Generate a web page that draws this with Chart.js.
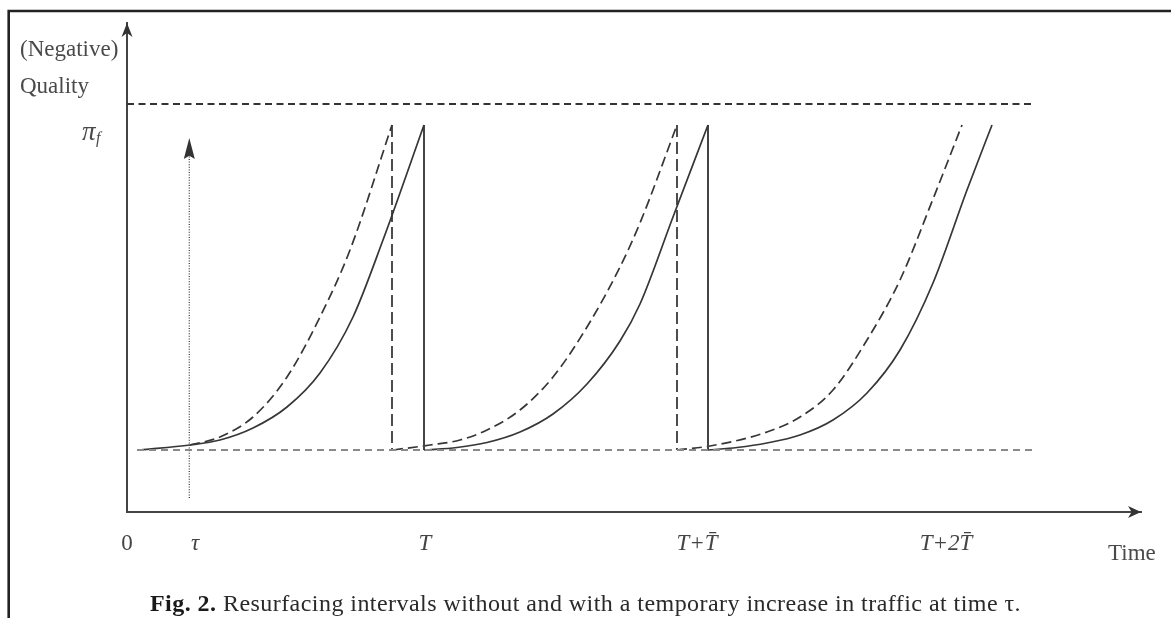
<!DOCTYPE html>
<html><head><meta charset="utf-8">
<script src="https://cdn.jsdelivr.net/npm/chart.js@4.4.1/dist/chart.umd.min.js"></script>
<style>
html,body{margin:0;padding:0;background:#fff;}
#wrap{position:relative;width:1171px;height:618px;overflow:hidden;background:#fff;}
canvas{position:absolute;left:0;top:0;}
#cap{position:absolute;left:0;width:1171px;top:591px;text-align:center;font-family:'Liberation Serif',serif;font-size:24px;line-height:24px;letter-spacing:0.45px;color:#2a2a2a;white-space:nowrap;}
#cap b{color:#1a1a1a;}
</style></head><body>
<div id="wrap"><canvas id="c" width="1171" height="618"></canvas>
<div id="cap"><b>Fig. 2.</b> Resurfacing intervals without and with a temporary increase in traffic at time τ.</div></div>
<script>
// ---- scales / levels ----
const X_MAX = 101.4;
const Y_MAX = 48.9;
const PI_F = 38.7;      // quality threshold pi_f
const UPPER = 40.8;     // upper dashed reference level
const BASE = 6.2;       // quality right after resurfacing
const TAU = 6.23;       // time of the temporary traffic increase
const TAU_TOP = 37.4;

// ---- x tick positions & labels ----
const tickValues = [0, 6.8, 29.8, 57.0, 81.9];
const tickLabels = ['0', 'τ', 'T', 'T+T\u0304', 'T+2T\u0304'];

// ---- solid path (no traffic increase) ----
const solidX1 = [1.3, 6.3, 9.3, 12.6, 16.0, 19.3, 22.6, 25.6, 29.7];
const solidY1 = [6.2, 6.7, 7.2, 8.4, 10.5, 13.9, 19.5, 27.2, 38.7];
const solidX2 = [29.7, 33.0, 36.0, 39.3, 42.6, 46.0, 49.3, 51.3, 54.6, 58.1];
const solidY2 = [6.2, 6.45, 6.95, 8.0, 9.8, 12.8, 17.1, 20.8, 29.5, 38.7];
const solidX3 = [58.1, 61.0, 64.0, 67.3, 70.6, 74.0, 77.3, 80.6, 84.0, 86.5];
const solidY3 = [6.2, 6.45, 6.9, 7.7, 9.2, 11.9, 16.2, 22.9, 32.2, 38.7];

// ---- dashed path (temporary traffic increase at tau) ----
const dashX1 = [6.3, 9.3, 12.6, 16.0, 19.3, 22.3, 26.5];
const dashY1 = [6.7, 7.5, 9.5, 13.5, 19.5, 26.2, 38.7];
const dashX2 = [26.6, 30.3, 33.3, 36.0, 39.3, 42.6, 46.0, 49.3, 51.3, 55.0];
const dashY2 = [6.2, 6.7, 7.2, 8.2, 10.2, 13.5, 18.5, 24.5, 28.9, 38.7];
const dashX3 = [55.0, 58.3, 64.0, 67.3, 70.6, 74.0, 77.3, 80.6, 83.5];
const dashY3 = [6.2, 6.6, 8.0, 9.5, 12.2, 17.2, 23.2, 31.3, 38.7];

const upperLineX = [0, 90.8];
const baseLineX = [1.0, 90.6];

const zip = (xs, ys) => xs.map((x, i) => ({x, y: ys[i]}));
const drop = (x, top) => [{x, y: top}, {x, y: BASE}];

const INK = '#363636';
const curve = (data, dash) => ({
  data, showLine: true, pointRadius: 0, borderColor: INK, borderWidth: 1.7,
  borderDash: dash || [], cubicInterpolationMode: 'monotone', fill: false
});
const straight = (data, color, width, dash) => ({
  data, showLine: true, pointRadius: 0, borderColor: color, borderWidth: width,
  borderDash: dash || [], tension: 0, fill: false
});

const datasets = [
  straight(zip(upperLineX, [UPPER, UPPER]), '#333', 2, [7, 4.5]),
  straight(zip(baseLineX, [BASE, BASE]), '#8a8a8a', 2, [7, 5]),
  straight([{x: TAU, y: 1.4}, {x: TAU, y: TAU_TOP - 1.5}], '#444', 1.3, [1, 1.6]),
  curve(zip(solidX1, solidY1)),
  curve(zip(solidX2, solidY2)),
  curve(zip(solidX3, solidY3)),
  straight(drop(solidX1[solidX1.length - 1], PI_F), '#444', 2),
  straight(drop(solidX2[solidX2.length - 1], PI_F), '#444', 2),
  curve(zip(dashX1, dashY1), [10, 5]),
  curve(zip(dashX2, dashY2), [10, 5]),
  curve(zip(dashX3, dashY3), [10, 5]),
  straight(drop(dashX1[dashX1.length - 1], PI_F), '#3a3a3a', 1.8, [12, 5]),
  straight(drop(dashX2[dashX2.length - 1], PI_F), '#3a3a3a', 1.8, [12, 5])
];

function arrowHead(ctx, x, y, angle, len, half, notch) {
  ctx.save();
  ctx.translate(x, y);
  ctx.rotate(angle);
  ctx.beginPath();
  ctx.moveTo(0, 0);
  ctx.lineTo(-len, -half);
  ctx.lineTo(-len * notch, 0);
  ctx.lineTo(-len, half);
  ctx.closePath();
  ctx.fill();
  ctx.restore();
}

const decor = {
  id: 'decor',
  afterDraw(chart) {
    const ctx = chart.ctx;
    const xs = chart.scales.x, ys = chart.scales.y;
    ctx.save();
    // frame
    ctx.strokeStyle = '#222';
    ctx.lineWidth = 2.6;
    ctx.beginPath();
    ctx.moveTo(8.7, 618);
    ctx.lineTo(8.7, 11);
    ctx.lineTo(1171, 11);
    ctx.stroke();
    // arrowheads
    ctx.fillStyle = '#333';
    const x0 = xs.getPixelForValue(0), y0 = ys.getPixelForValue(0);
    arrowHead(ctx, x0, ys.getPixelForValue(Y_MAX), -Math.PI / 2, 14, 5.5, 0.72);
    arrowHead(ctx, xs.getPixelForValue(X_MAX), y0, 0, 13, 6, 0.72);
    arrowHead(ctx, xs.getPixelForValue(TAU), ys.getPixelForValue(TAU_TOP), -Math.PI / 2, 21, 5.5, 0.85);
    // labels
    ctx.fillStyle = '#4a4a4a';
    ctx.textBaseline = 'alphabetic';
    ctx.textAlign = 'left';
    ctx.font = "23px 'Liberation Serif'";
    ctx.fillText('(Negative)', 20, 56);
    ctx.fillText('Quality', 20, 93);
    ctx.fillText('Time', 1108, 560);
    const py = ys.getPixelForValue(PI_F);
    ctx.font = "italic 27px 'Liberation Serif'";
    ctx.fillText('π', 82, py + 15);
    ctx.font = "italic 16px 'Liberation Serif'";
    ctx.fillText('f', 96, py + 18);
    ctx.restore();
  }
};

new Chart(document.getElementById('c'), {
  type: 'scatter',
  data: { datasets },
  plugins: [decor],
  options: {
    responsive: false,
    animation: false,
    devicePixelRatio: 1,
    layout: { padding: { top: 23, right: 30, left: 0, bottom: 0 } },
    plugins: { legend: { display: false }, tooltip: { enabled: false } },
    scales: {
      x: {
        type: 'linear', min: 0, max: X_MAX,
        grid: { display: false, drawTicks: false },
        border: { display: true, color: '#444', width: 2 },
        afterBuildTicks: s => { s.ticks = tickValues.map(v => ({ value: v })); },
        afterFit: s => { s.height = 106; },
        ticks: {
          autoSkip: false, maxRotation: 0, minRotation: 0, padding: 18, color: '#444',
          font: ctx => ({ family: 'Liberation Serif', size: 23, style: ctx.index === 0 ? 'normal' : 'italic' }),
          callback: (v, i) => tickLabels[i]
        }
      },
      y: {
        type: 'linear', min: 0, max: Y_MAX,
        grid: { display: false, drawTicks: false },
        border: { display: true, color: '#444', width: 2 },
        ticks: { display: false },
        afterFit: s => { s.width = 127; }
      }
    }
  }
});
</script>
</body></html>
